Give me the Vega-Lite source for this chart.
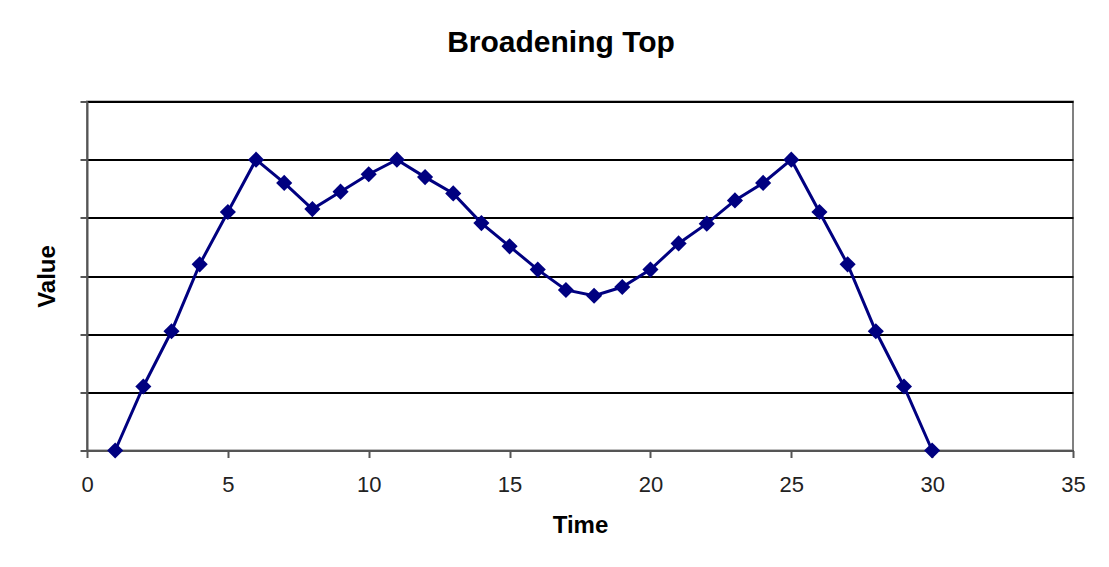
{
  "$schema": "https://vega.github.io/schema/vega-lite/v6.json",
  "width": 986,
  "height": 349,
  "autosize": {"type": "none"},
  "padding": {"left": 87, "top": 101.5, "right": 36, "bottom": 116.5},
  "background": "#ffffff",
  "title": {
    "text": "Broadening Top",
    "font": "Liberation Sans",
    "fontSize": 30,
    "fontWeight": "bold",
    "color": "#000000",
    "anchor": "middle",
    "frame": "group",
    "dx": -19,
    "offset": 19,
    "baseline": "alphabetic"
  },
  "data": {
    "values": [
      {"time": 1, "value": 0},
      {"time": 2, "value": 1.1},
      {"time": 3, "value": 2.05},
      {"time": 4, "value": 3.2},
      {"time": 5, "value": 4.1},
      {"time": 6, "value": 5.0},
      {"time": 7, "value": 4.6},
      {"time": 8, "value": 4.15},
      {"time": 9, "value": 4.45},
      {"time": 10, "value": 4.75},
      {"time": 11, "value": 5.0},
      {"time": 12, "value": 4.7},
      {"time": 13, "value": 4.42},
      {"time": 14, "value": 3.91},
      {"time": 15, "value": 3.51},
      {"time": 16, "value": 3.11},
      {"time": 17, "value": 2.76},
      {"time": 18, "value": 2.66},
      {"time": 19, "value": 2.81},
      {"time": 20, "value": 3.11},
      {"time": 21, "value": 3.56},
      {"time": 22, "value": 3.9},
      {"time": 23, "value": 4.3},
      {"time": 24, "value": 4.6},
      {"time": 25, "value": 5.0},
      {"time": 26, "value": 4.1},
      {"time": 27, "value": 3.2},
      {"time": 28, "value": 2.05},
      {"time": 29, "value": 1.1},
      {"time": 30, "value": 0}
    ]
  },
  "encoding": {
    "x": {
      "field": "time",
      "type": "quantitative",
      "title": "Time",
      "scale": {"domain": [0, 35], "nice": false},
      "axis": {
        "values": [0, 5, 10, 15, 20, 25, 30, 35],
        "grid": false,
        "tickSize": 7,
        "labelPadding": 17,
        "labelFlush": false,
        "titlePadding": 18
      }
    },
    "y": {
      "field": "value",
      "type": "quantitative",
      "title": "Value",
      "scale": {"domain": [0, 6], "nice": false},
      "axis": {
        "values": [0, 1, 2, 3, 4, 5, 6],
        "labels": false,
        "grid": true,
        "gridColor": "#000000",
        "gridWidth": 2,
        "tickSize": 7,
        "titlePadding": 20
      }
    }
  },
  "layer": [
    {
      "mark": {"type": "line", "color": "#000080", "strokeWidth": 3, "clip": false}
    },
    {
      "mark": {"type": "point", "shape": "diamond", "filled": true, "size": 260, "color": "#000080", "opacity": 1, "clip": false}
    }
  ],
  "config": {
    "view": {"stroke": "#808080", "strokeWidth": 2},
    "axis": {
      "domainColor": "#555555",
      "domainWidth": 2,
      "tickColor": "#555555",
      "tickWidth": 2,
      "labelFont": "Liberation Sans",
      "labelFontSize": 22,
      "labelColor": "#222222",
      "titleFont": "Liberation Sans",
      "titleFontSize": 24,
      "titleFontWeight": "bold",
      "titleColor": "#000000"
    }
  }
}
